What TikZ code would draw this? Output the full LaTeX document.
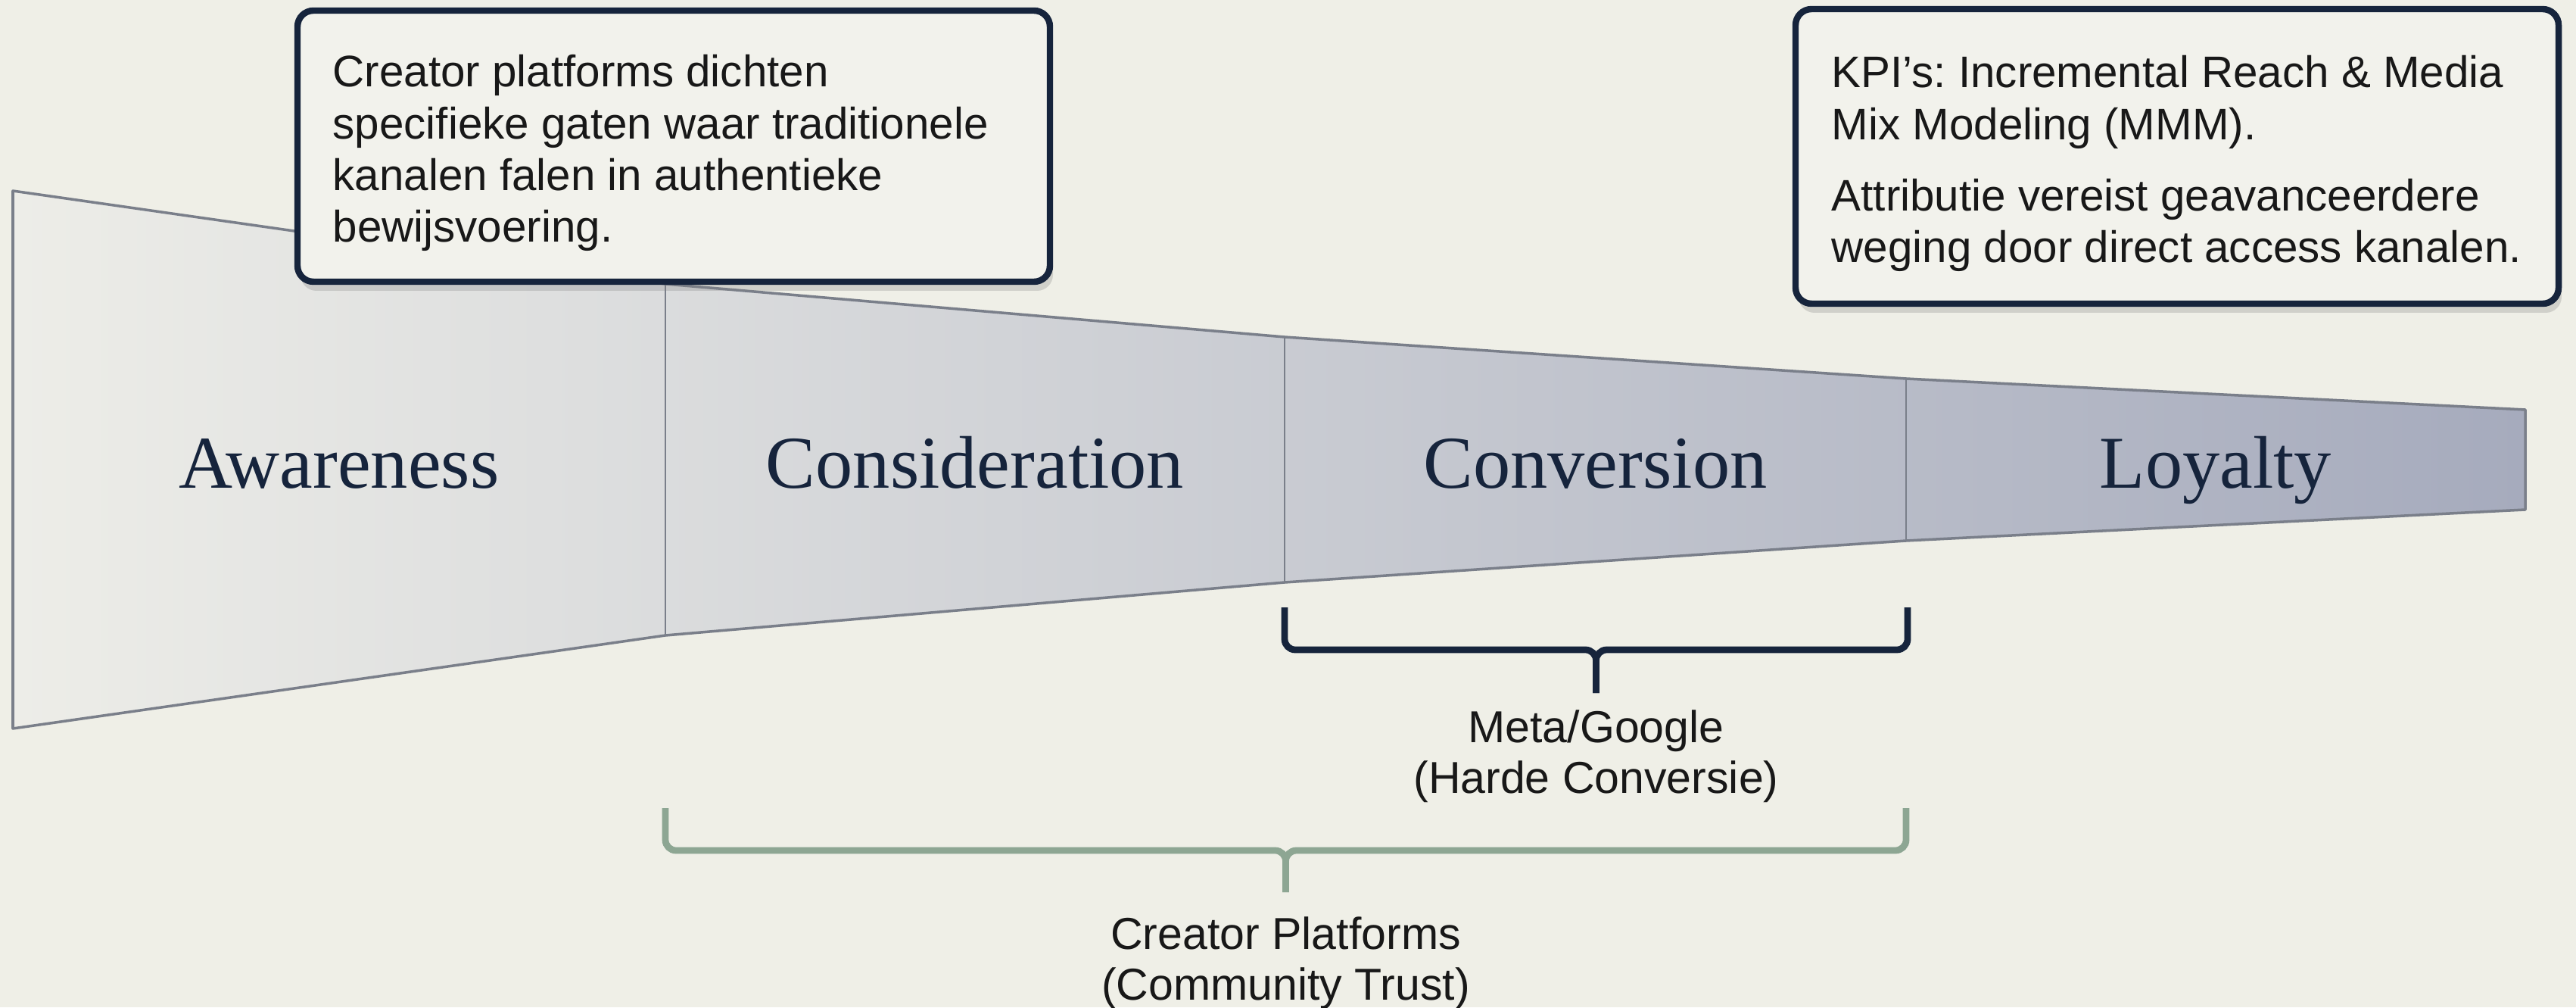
\documentclass[tikz,border=0pt]{standalone}
\usepackage{fontspec}
\setmainfont{Liberation Serif}
\setsansfont{Liberation Sans}
\usetikzlibrary{shadows}
\definecolor{paper}{RGB}{239,239,231}
\definecolor{navy}{RGB}{22,36,60}
\definecolor{sage}{RGB}{141,166,147}
\definecolor{funlight}{RGB}{237,237,232}
\definecolor{funmid}{RGB}{213,214,220}
\definecolor{fundark}{RGB}{166,171,189}
\definecolor{funline}{RGB}{122,127,138}
\definecolor{boxfill}{RGB}{242,242,236}
\definecolor{ink}{RGB}{24,24,24}

\begin{document}
\begin{tikzpicture} [
                stage/.style={font=\fontsize{28}{32}\selectfont,text=navy,anchor=base},
                callout/.style={draw=navy,line width=2.4pt,rounded corners=6pt,fill=boxfill,
                    drop shadow={shadow xshift=0.04cm,shadow yshift=-0.12cm,opacity=0.28}},
                callouttxt/.style={align=left,text=ink,inner sep=0pt,anchor=north west,
                    font=\sffamily\fontsize{16.6}{19.4}\selectfont\frenchspacing},
                brace/.style={line width=2.5pt,rounded corners=4pt},
                bracelbl/.style={font=\sffamily\fontsize{16.8}{19}\selectfont,text=ink,
                    align=center,inner sep=0pt,anchor=north},
            ]
            \useasboundingbox (0,0) rectangle (34.03,13.30);
            \fill[paper] (0,0) rectangle (34.03,13.30);
            % First we set the corners of the funnel
            \foreach \i/\x/\h in {
                    0/0.17/3.55, 1/8.79/2.32, 2/16.97/1.62, 3/25.18/1.07, 4/33.36/0.66}
                {
                \coordinate (t\i) at (\x,7.23+\h);
                \coordinate (b\i) at (\x,7.23-\h);
                }
            % Funnel body, outline and dividers
            \shade[left color=funlight,middle color=funmid,right color=fundark]
                (t0) -- (t1) -- (t2) -- (t3) -- (t4) -- (b4) -- (b3) -- (b2) -- (b1) -- (b0) -- cycle;
            \draw[funline,line width=1pt,line join=round]
                (t0) -- (t1) -- (t2) -- (t3) -- (t4) -- (b4) -- (b3) -- (b2) -- (b1) -- (b0) -- cycle;
            \foreach \i in {1,2,3}
                \draw[funline,line width=0.6pt] (t\i) -- (b\i);
            % Stage names
            \foreach \pos/\name in {
                    {(4.48,6.85)/Awareness}, {(12.88,6.85)/Consideration},
                    {(21.075,6.85)/Conversion}, {(29.27,6.85)/Loyalty}}
                \node[stage] (\name) at \pos {\name};
            % Callouts
            \node[callout,minimum width=9.94cm,minimum height=3.58cm] (gaps) at (8.90,11.37) {};
            \node[callouttxt] (gapstxt) at (4.39,12.58)
                {Creator platforms dichten\\
                 specifieke gaten waar traditionele\\
                 kanalen falen in authentieke\\
                 bewijsvoering.};
            \node[callout,minimum width=10.08cm,minimum height=3.89cm] (kpi) at (28.76,11.235) {};
            \node[callouttxt] (kpitxt) at (24.19,12.57)
                {KPI’s: Incremental Reach \& Media\\
                 Mix Modeling (MMM).\\[7.5pt]
                 Attributie vereist geavanceerdere\\
                 weging door direct access kanalen.};
            % Brackets under the funnel
            \coordinate (metaL) at (16.97,5.28);
            \coordinate (metaR) at (25.20,5.28);
            \coordinate (metaJ) at (21.085,4.72);
            \coordinate (metaT) at (21.085,4.15);
            \draw[brace,navy] (metaL) |- (metaJ) -- (metaT);
            \draw[brace,navy] (metaR) |- (metaJ) -- (metaT);
            \node[bracelbl] (meta) at (21.085,3.93) {Meta/Google\\(Harde Conversie)};
            \coordinate (creaL) at (8.79,2.63);
            \coordinate (creaR) at (25.18,2.63);
            \coordinate (creaJ) at (16.985,2.07);
            \coordinate (creaT) at (16.985,1.52);
            \draw[brace,sage] (creaL) |- (creaJ) -- (creaT);
            \draw[brace,sage] (creaR) |- (creaJ) -- (creaT);
            \node[bracelbl] (crea) at (16.985,1.20) {Creator Platforms\\(Community Trust)};
        \end{tikzpicture}
\end{document}
